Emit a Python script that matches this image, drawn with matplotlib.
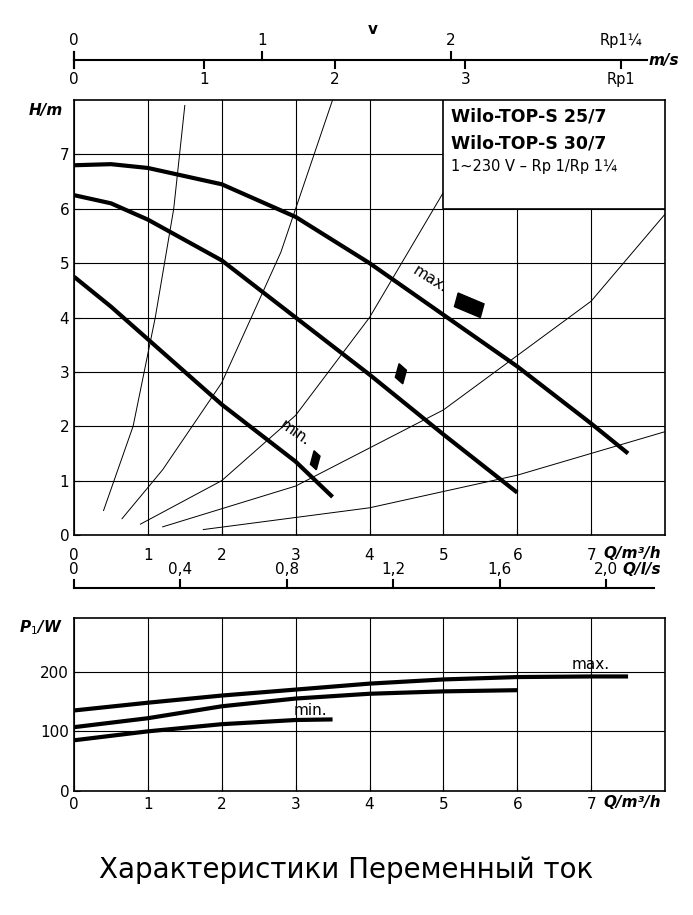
import matplotlib.pyplot as plt

plt.rcParams['font.family'] = ['DejaVu Sans']

# Head curves (Q m3/h, H m)
q_max = [0, 0.5, 1, 2, 3, 4, 5, 6, 7, 7.5]
h_max = [6.8, 6.82, 6.75, 6.45, 5.85, 5.0, 4.05, 3.1, 2.05, 1.5]
q_mid = [0, 0.5, 1, 2, 3, 4, 5, 6]
h_mid = [6.25, 6.1, 5.8, 5.05, 4.0, 2.95, 1.85, 0.78]
q_min = [0, 0.5, 1, 2, 3, 3.5]
h_min = [4.75, 4.2, 3.6, 2.4, 1.35, 0.7]

# System curves
sys_curves = [
    ([0.4, 0.8, 1.1, 1.35, 1.5], [0.45, 2.0, 4.0, 6.0, 7.9]),
    ([0.65, 1.2, 2.0, 2.8, 3.5], [0.3, 1.2, 2.8, 5.2, 8.0]),
    ([0.9, 2.0, 3.0, 4.0, 5.0], [0.2, 1.0, 2.2, 4.0, 6.3]),
    ([1.2, 3.0, 5.0, 7.0, 8.0], [0.15, 0.9, 2.3, 4.3, 5.9]),
    ([1.75, 4.0, 6.0, 8.0], [0.1, 0.5, 1.1, 1.9]),
]

# Power curves (Q m3/h, P1 W)
pq_max = [0, 1, 2, 3, 4, 5, 6, 7, 7.5]
p_max = [135, 148, 160, 170, 180, 187, 191, 192, 192]
pq_mid = [0, 1, 2, 3, 4, 5, 6]
p_mid = [107, 122, 142, 155, 163, 167, 169]
pq_min = [0, 1, 2, 3, 3.5]
p_min = [85, 100, 112, 119, 120]

# auxiliary scales
ls_ticks = [0, 0.4, 0.8, 1.2, 1.6, 2.0]
ls_labels = ['0', '0,4', '0,8', '1,2', '1,6', '2,0']
v_rp114_ticks = [0, 1, 2]
v_rp1_ticks = [0, 1, 2, 3]
Q_PER_LS = 3.6
Q_PER_MS_RP1 = 1.766
Q_PER_MS_RP114 = 2.551

fig = plt.figure(figsize=(6.93, 9.15), dpi=100)
ax = fig.add_axes([74/693, 1-535/915, (665-74)/693, 435/915])
ax2 = fig.add_axes([74/693, 1-791/915, (665-74)/693, 173/915])

for a in (ax, ax2):
    a.set_xlim(0, 8)
    a.grid(True, color='black', lw=0.8)
    a.set_xticks(range(0, 8))
    for s in a.spines.values():
        s.set_linewidth(1.2)
    a.tick_params(direction='in', labelsize=11, length=4)
ax.tick_params(axis='x', pad=9)
ax2.tick_params(axis='x', pad=4)

ax.set_ylim(0, 8)
ax.set_yticks(range(0, 8))
for xs, ys in sys_curves:
    ax.plot(xs, ys, color='black', lw=0.7)
for xs, ys in [(q_max, h_max), (q_mid, h_mid), (q_min, h_min)]:
    ax.plot(xs, ys, color='black', lw=3, solid_capstyle='butt')

def para(x, y, w, h):
    ax.fill([x, x + w, x + w + 0.05, x + 0.05], [y, y - h, y - h + 0.25, y + 0.25], color='black')
para(5.15, 4.2, 0.35, 0.2)
para(4.35, 2.9, 0.1, 0.12)
para(3.2, 1.3, 0.08, 0.1)
ax.text(4.55, 4.45, 'max.', rotation=-32, fontsize=11)
ax.text(2.75, 1.65, 'min.', rotation=-35, fontsize=11)

ax.add_patch(plt.Rectangle((5.0, 6.0), 3.0, 2.0, facecolor='white', edgecolor='black', lw=1.2, zorder=3))
ax.text(5.1, 7.6, 'Wilo-TOP-S 25/7', fontsize=12.5, fontweight='bold', zorder=4)
ax.text(5.1, 7.1, 'Wilo-TOP-S 30/7', fontsize=12.5, fontweight='bold', zorder=4)
ax.text(5.1, 6.7, '1~230 V – Rp 1/Rp 1¼', fontsize=10.5, zorder=4)

px = 435 / 8
def yline(ypix):
    return (535 - ypix) / px

ax.text(-0.15, 7.95, 'H/m', fontsize=11, fontweight='bold', style='italic', ha='right', va='top')
ax.text(7.95, yline(553), 'Q/m³/h', fontsize=11, fontweight='bold', style='italic', ha='right', va='center')

kw = dict(color='black', lw=1.5, clip_on=False)
yl = yline(588)
ax.plot([0, 7.85], [yl, yl], **kw)
for t, lab in zip(ls_ticks, ls_labels):
    q = t * Q_PER_LS
    ax.plot([q, q], [yl, yl + 0.15], **kw)
    ax.text(q, yline(569), lab, fontsize=11, ha='center', va='center')
ax.text(7.95, yline(569), 'Q/l/s', fontsize=11, fontweight='bold', style='italic', ha='right', va='center')

yv = yline(60)
ax.plot([0, 7.75], [yv, yv], **kw)
ax.plot([0, 0], [yv - 0.15, yv + 0.15], **kw)
for t in v_rp114_ticks:
    q = t * Q_PER_MS_RP114
    ax.plot([q, q], [yv, yv + 0.15], **kw)
    ax.text(q, yv + 0.22, str(t), fontsize=11, ha='center', va='bottom')
for t in v_rp1_ticks:
    q = t * Q_PER_MS_RP1
    ax.plot([q, q], [yv, yv - 0.15], **kw)
    ax.text(q, yv - 0.22, str(t), fontsize=11, ha='center', va='top')
ax.plot([7.4, 7.4], [yv, yv - 0.15], **kw)
ax.text(7.4, yv - 0.22, 'Rp1', fontsize=10.5, ha='center', va='top')
ax.text(7.4, yv + 0.22, 'Rp1¼', fontsize=10.5, ha='center', va='bottom')
ax.text(7.78, yv, 'm/s', fontsize=11, fontweight='bold', style='italic', ha='left', va='center')
ax.text(4.05, yline(30), 'v', fontsize=11, fontweight='bold', ha='center', va='center')

ax2.set_ylim(0, 290)
ax2.set_yticks([0, 100, 200])
for xs, ys in [(pq_max, p_max), (pq_mid, p_mid), (pq_min, p_min)]:
    ax2.plot(xs, ys, color='black', lw=3, solid_capstyle='butt')
ax2.text(7.0, 205, 'max.', fontsize=11, ha='center')
ax2.text(3.2, 127, 'min.', fontsize=11, ha='center')
ax2.text(-0.15, 290, 'P$_1$/W', fontsize=11, fontweight='bold', style='italic', ha='right', va='top')
ax2.text(7.95, -20, 'Q/m³/h', fontsize=11, fontweight='bold', style='italic', ha='right', va='center')

fig.text(0.5, 1-870/915, 'Характеристики Переменный ток', fontsize=20, ha='center', va='center')
fig.savefig('out.png', dpi=100)
